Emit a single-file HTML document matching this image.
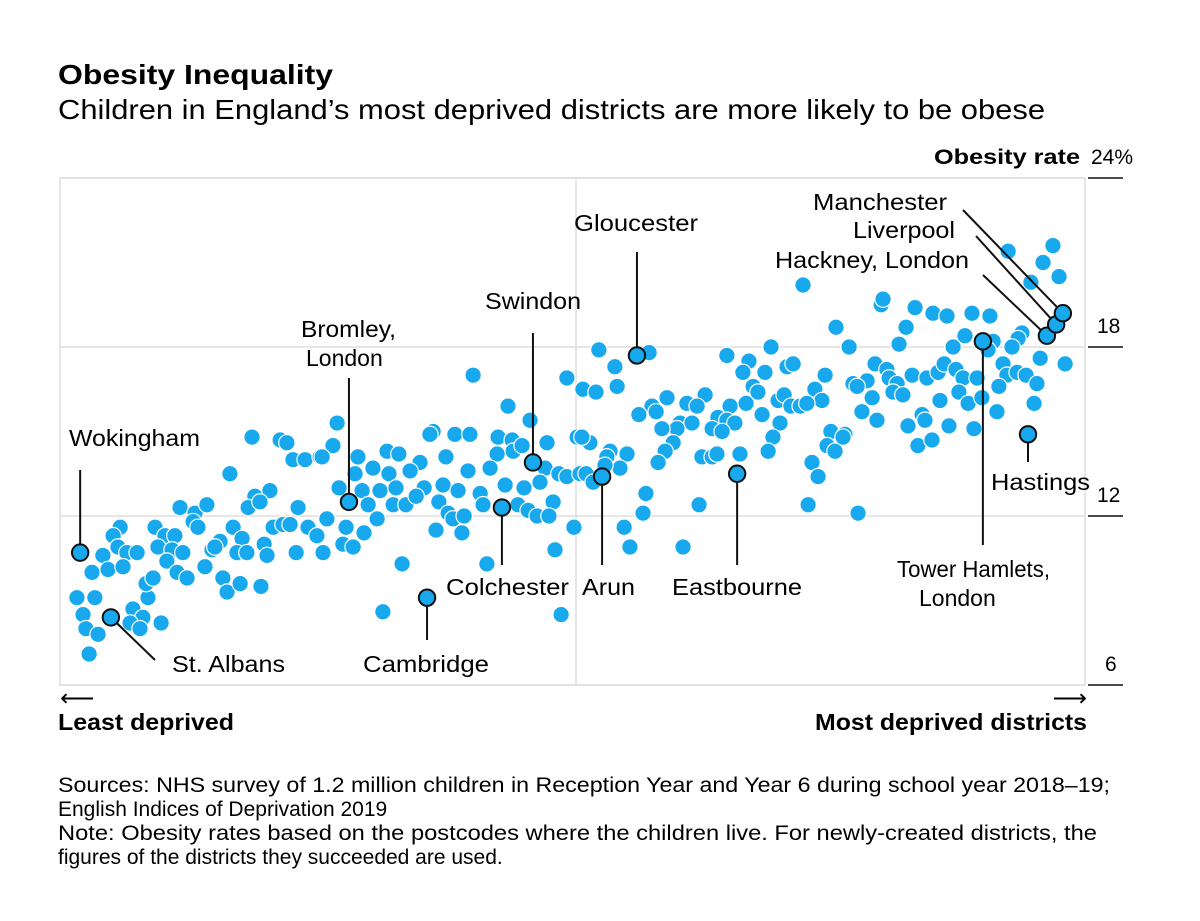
<!DOCTYPE html>
<html><head><meta charset="utf-8"><style>
body{margin:0;background:#fff;width:1200px;height:916px;overflow:hidden;font-family:"Liberation Sans",sans-serif;color:#111}
svg text{font-family:"Liberation Sans",sans-serif}
</style></head><body>
<svg id="chart" width="1200" height="916">
<text x="58" y="84" font-size="28" font-weight="bold" textLength="275" lengthAdjust="spacingAndGlyphs">Obesity Inequality</text>
<text x="58" y="119" font-size="28" textLength="987" lengthAdjust="spacingAndGlyphs">Children in England’s most deprived districts are more likely to be obese</text>
<g id="grid"></g><g id="dots"></g><g id="anno"></g>
<text x="934" y="164" font-size="21" font-weight="bold" textLength="146" lengthAdjust="spacingAndGlyphs">Obesity rate</text>
<text x="60" y="706" font-size="24">⟵</text>
<text x="1087" y="706" font-size="24" text-anchor="end">⟶</text>
<text x="58" y="730" font-size="23" font-weight="bold" textLength="176" lengthAdjust="spacingAndGlyphs">Least deprived</text>
<text x="815" y="730" font-size="23" font-weight="bold" textLength="272" lengthAdjust="spacingAndGlyphs">Most deprived districts</text>
<g font-size="21">
<text x="58" y="792" textLength="1052" lengthAdjust="spacingAndGlyphs">Sources: NHS survey of 1.2 million children in Reception Year and Year 6 during school year 2018–19;</text>
<text x="58" y="816">English Indices of Deprivation 2019</text>
<text x="58" y="840" textLength="1039" lengthAdjust="spacingAndGlyphs">Note: Obesity rates based on the postcodes where the children live. For newly-created districts, the</text>
<text x="58" y="864">figures of the districts they succeeded are used.</text>
</g>
</svg>
<script>
const yTicks=[24,18,12,6];
const yTickLabels=["24%","18","12","6"];
const ranks=[60,68.8,70.9,72.8,76.6,81.3,53.1,60.9,65.6,58.8,62.5,74.4,37.5,42.2,45.9,41.6,43.1,29.7,32.8,35.9,30.6,35,38.4,33.4,36.6,39.7,45.3,18.8,16.6,18.1,13.4,20.9,24.1,10,15,19.7,5.3,10.9,7.2,8.1,11.9,9.1,22.8,25.9,21.9,25,31.6,27.5,26.9,29.1,50.9,52.2,56.3,62.8,47.5,50,48.4,54.1,56.9,55.3,58.4,63.8,64.7,66.6,69.7,71.9,77.5,80.3,83.4,73.8,82.2,
129.1,158.4,163.4,140,146.9,86.6,116.6,115.6,123.4,128.1,136.9,141.3,152.2,161.6,85.3,81.9,102.2,105.9,93.1,120.6,112.5,109.4,141.6,144.4,136.6,97.8,102.8,92.2,127.5,134.4,151.6,155.9,158.4,162.5,154.1,87.2,94.4,100,105,113.8,119.7,124.4,131.3,139.1,145,150,96.3,104.1,108.1,111.3,118.4,121.3,122.8,126.3,132.2,143.1,146.3,149.1,152.8,99.1,89.4,95,117.5,125.6,160.6,88.4,91.6,154.7,106.9,133.4,100.9,156.6,
232.2,242.5,168.4,184.1,208.4,215.3,222.2,213.4,220.3,227.2,229.1,239.1,173.4,174.1,167.5,216.6,218.1,235.9,238.1,224.4,226.3,228.4,231.3,233.4,189.7,195.9,201.6,199.1,185,186.3,180.9,209.4,214.4,219.4,205.6,208.4,210.9,203.8,206.9,193.8,197.5,192.8,188.1,225,222.8,221.3,240.9,239.7,242.2,191.6,189.1,186.9,200.6,203.8,205.3,212.5,177.2,171.9,170.9,175,170.3,165.6,163.1,164.4,166.6,235,236.9,183.1,182.2,199.7,233.8,176.3,178.1,194.7,
296.3,310.3,307.2,312.2,303.4,256.6,257.2,267.2,272.8,277.2,285,290.6,264.4,282.8,291.6,300.6,299.4,297.5,246.6,262.2,279.1,290,306.3,314.1,254.7,258.4,266.3,270.9,274.4,276.3,280,282.2,286.6,294.7,295.9,299.1,301.9,305.3,293.4,247.8,252.2,249.1,259.1,261.6,260.3,263.4,253.8,250.6,255.3,275,280.9,283.8,288.1,292.8,304.4,265,269.4,270.3,277.8,285.6,245.3,244.7,268.1,272.5,249.4];
const rates=[14.8,14.7,14.6,14,14,14.1,13.5,12.7,12.9,12.3,12.5,12.3,12.3,12.1,12.4,11.8,11.6,11.6,11.3,11.3,10.9,10.8,10.7,10.4,10,9.8,10.2,11.6,11.3,10.9,10.6,10.7,10.7,10,10.1,10.2,9.1,9.1,8.5,8,7.8,7.1,8.7,8.4,8.2,8,8.2,9.1,9.6,9.8,9.8,9.3,9.6,9.5,10.8,11.1,10.9,11.6,11.2,10.7,10.7,11,10.6,11.6,11.7,11.7,11.6,11.3,11.9,10.7,10.7,
17,16.9,16.5,15.9,15.4,15.3,15,14.9,14.9,14.9,14.8,14.7,14.6,14.8,14.5,14.1,14.3,14.2,14.1,14.1,13.9,13.6,14.3,14.5,14.2,13.7,13.5,13.5,13.6,13.7,13.7,13.5,13.4,13.5,12.5,13,12.9,12.9,13,13,13.1,12.9,12.8,13.1,13,13.2,12.4,12.4,12.4,12.7,12.5,12.1,11.9,12,12.4,12.4,12.2,12,12,11.9,11.6,11.4,11.5,11.4,11.6,11,10.9,10.8,10.3,10.3,8.6,8.5,
20.2,18.7,17.9,17.8,17.7,17.5,18,17.1,17.1,17.3,17.4,17,17.3,16.6,16.4,16.6,16.4,16.5,16.1,16.1,16.3,15.9,15.9,16,16.2,16,16.3,15.9,15.9,15.7,15.6,15.9,16,15.6,15.5,15.4,15.3,15.1,15,15.3,15.3,15.1,15.1,15.3,14.8,14.3,15,14.5,14.3,14.6,14.3,13.9,14.1,14.1,14.2,14.2,14.2,14.3,14.1,13.7,13.8,14.6,14.8,13.5,13.2,13.9,13.4,12.8,12.1,12.4,12.4,11.6,10.9,10.9,
21.4,21.6,21,20.5,20.3,19.5,19.7,19.4,19.2,19.1,19.2,19.1,18.7,18.4,18.2,18.5,18.3,18,18,18.1,18,17.9,17.6,17.4,17.4,17.2,17,16.9,17.1,17.4,17.2,16.9,16.9,17.4,17,17.1,17,16.7,16.6,16.7,16.8,16.6,16.9,16.7,16.4,16.3,16.2,15.7,15.4,16.1,16.4,16,16.2,15.7,16,15.2,15.6,15.4,15.2,15.1,14.9,14.8,14.5,14.7,12.1];
const hlNames=["Wokingham","St. Albans","Cambridge","Bromley","Colchester","Swindon","Arun","Gloucester","Eastbourne","Tower Hamlets","Hastings","Hackney","Liverpool","Manchester"];
const hlRanks=[6.3,15.9,114.7,90.3,138.1,147.8,169.4,180.3,211.6,288.4,302.5,308.4,311.3,313.4];
const hlRates=[10.7,8.4,9.1,12.5,12.3,13.9,13.4,17.7,13.5,18.2,14.9,18.4,18.8,19.2];

const NS="http://www.w3.org/2000/svg";
const X0=60,X1=1084,Y0=685,Y1=178;
const xs=r=>X0+r/320*(X1-X0);
const ys=v=>Y0-(v-6)/18*(Y0-Y1);
function mk(tag,attrs,parent){const e=document.createElementNS(NS,tag);for(const k in attrs)e.setAttribute(k,attrs[k]);parent.appendChild(e);return e;}
const grid=document.getElementById('grid'),dots=document.getElementById('dots'),anno=document.getElementById('anno');
let fr=mk('rect',{x:X0,y:Y1,width:1085-X0,height:Y0-Y1,fill:'none',stroke:'#ddd','stroke-width':1.5},grid);


let mid=mk('line',{x1:576,x2:576,y1:Y1,y2:Y0,stroke:'#ddd','stroke-width':1.5},grid);


yTicks.forEach((t,i)=>{
  const y=ys(t);
  const g=mk('line',{x1:X0,x2:1085,y1:y,y2:y,stroke:'#ddd','stroke-width':1.5},grid);
  
  
  const tk=mk('line',{x1:1088,x2:1123,y1:y,y2:y,stroke:'#111','stroke-width':1.5},grid);
  
  
  const tx=mk('text',{x:i==0?1091:(t<10?1105:1097),y:y-14,'font-size':21},grid);
  tx.textContent=yTickLabels[i];
  
  
});
ranks.forEach((r,i)=>{
  const c=mk('circle',{cx:xs(r),cy:ys(rates[i]),r:8.2,fill:'#17a8ee',stroke:'#fff','stroke-width':1.2},dots);
  
  
});
const lab=[
 [null,470,[["Wokingham",69,131]],446],
 [[155,660],null,[["St. Albans",172,113]],672],
 [null,640,[["Cambridge",363,126]],672],
 [null,378,[["Bromley,",301,95],["London",306,0]],337],
 [null,565,[["Colchester",446,123]],595],
 [null,333,[["Swindon",485,96]],309],
 [null,565,[["Arun",582,53]],595],
 [null,252,[["Gloucester",574,124]],231],
 [null,565,[["Eastbourne",672,130]],595],
 [null,545,[["Tower Hamlets,",897,153],["London",919,0]],577],
 [null,462,[["Hastings",991,99]],490],
 [[983,275],null,[["Hackney, London",775,194]],268],
 [[976,236],null,[["Liverpool",853,102]],238],
 [[963,210],null,[["Manchester",813,134]],210]
];
hlRanks.forEach((r,i)=>{
  const cx=xs(r),cy=ys(hlRates[i]);const L=lab[i];
  let ex,ey;
  if(L[0]){ex=L[0][0];ey=L[0][1];}else{ex=cx;ey=L[1];}
  const ln=mk('line',{x1:cx,y1:cy,x2:ex,y2:ey,stroke:'#111','stroke-width':2},anno);
  
  
  L[2].forEach((s,j)=>{
    const at={x:s[1],y:L[3]+j*29,'font-size':23};
    if(s[2]){at.textLength=s[2];at.lengthAdjust='spacingAndGlyphs';}
    const t=mk('text',at,anno);
    t.textContent=s[0];
    
    
  });
});
hlRanks.forEach((r,i)=>{
  const c=mk('circle',{cx:xs(r),cy:ys(hlRates[i]),r:8.2,fill:'#17a8ee',stroke:'#111','stroke-width':2},anno);
  
  
});
</script>
</body></html>
